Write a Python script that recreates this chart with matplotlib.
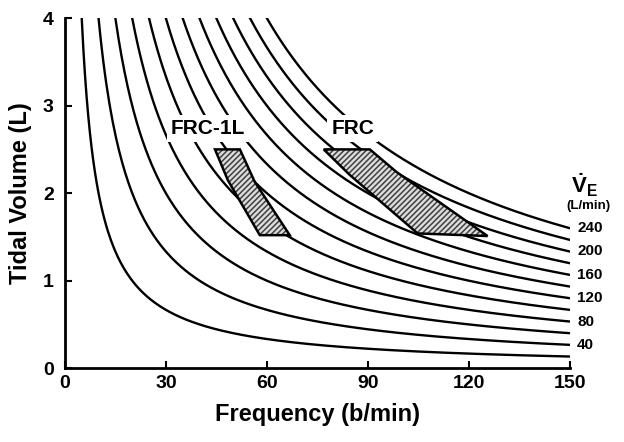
import numpy as np
import matplotlib
matplotlib.use("Agg")
import matplotlib.pyplot as plt
from matplotlib.patches import Polygon

# Data
ve_values = [20, 40, 60, 80, 100, 120, 140, 160, 180, 200, 220, 240]
ve_labels = [240, 200, 160, 120, 80, 40]
x_ticks = [0, 30, 60, 90, 120, 150]
y_ticks = [0, 1, 2, 3, 4]

frc1l_f = [44.6, 52.0, 56.4, 66.8, 57.9, 48.4]
frc1l_vt = [2.50, 2.50, 2.13, 1.52, 1.52, 2.15]
frc_f = [76.9, 90.6, 98.6, 125.6, 104.8, 84.6]
frc_vt = [2.50, 2.50, 2.24, 1.51, 1.54, 2.21]

plt.rcParams['font.family'] = ['Liberation Sans', 'DejaVu Sans']
plt.rcParams['font.weight'] = 'bold'
plt.rcParams['mathtext.fontset'] = 'custom'
plt.rcParams['mathtext.bf'] = 'Liberation Sans:bold'
plt.rcParams['mathtext.rm'] = 'Liberation Sans:bold'
plt.rcParams['hatch.color'] = '#404040'
plt.rcParams['hatch.linewidth'] = 1.1

fig = plt.figure(figsize=(6.24, 4.42), dpi=100)
ax = fig.add_axes([0.104, 0.167, 0.809, 0.792])

# Isopleths VT = VE / f
for ve in ve_values:
    f = np.linspace(ve / 4.0, 150, 300)
    ax.plot(f, ve / f, color='black', lw=1.7, zorder=2)

# Shaded regions
for fs, vts in [(frc1l_f, frc1l_vt), (frc_f, frc_vt)]:
    pts = np.column_stack([fs, vts])
    ax.add_patch(Polygon(pts, closed=True, facecolor='#dcdcdc', hatch='//////',
                         edgecolor='#404040', lw=0, zorder=3))
    ax.add_patch(Polygon(pts, closed=True, fill=False, edgecolor='black',
                         lw=1.8, zorder=4))

ax.text(42.5, 2.74, "FRC-1L", ha='center', va='center', fontsize=15, fontweight='bold',
        bbox=dict(facecolor='white', edgecolor='none', pad=3), zorder=5)
ax.text(85.5, 2.74, "FRC", ha='center', va='center', fontsize=15, fontweight='bold',
        bbox=dict(facecolor='white', edgecolor='none', pad=3), zorder=5)

# Right-side labels
for ve in ve_labels:
    ax.text(152.2, ve / 150.0, str(ve), ha='left', va='center', fontsize=11,
            fontweight='bold', clip_on=False)
ax.text(154.5, 2.09, r"$\dot{\mathbf{V}}_{\mathbf{E}}$", ha='center', va='center',
        fontsize=16, clip_on=False)
ax.text(155.5, 1.85, "(L/min)", ha='center', va='center', fontsize=9.5,
        fontweight='bold', clip_on=False)

ax.set_xlim(0, 150)
ax.set_ylim(0, 4)
ax.set_xticks(x_ticks)
ax.set_yticks(y_ticks)
ax.spines['top'].set_visible(False)
ax.spines['right'].set_visible(False)
ax.spines['left'].set_linewidth(2)
ax.spines['bottom'].set_linewidth(2)
ax.tick_params(direction='in', length=5, width=1.5, labelsize=14)
ax.tick_params(axis='x', pad=5)
ax.tick_params(axis='y', pad=8)
for lab in ax.get_xticklabels() + ax.get_yticklabels():
    lab.set_fontweight('bold')

ax.set_xlabel("Frequency (b/min)", fontsize=17, fontweight='bold', labelpad=8)
ax.set_ylabel("Tidal Volume (L)", fontsize=17, fontweight='bold', labelpad=8)

fig.savefig("out.png", dpi=100)
